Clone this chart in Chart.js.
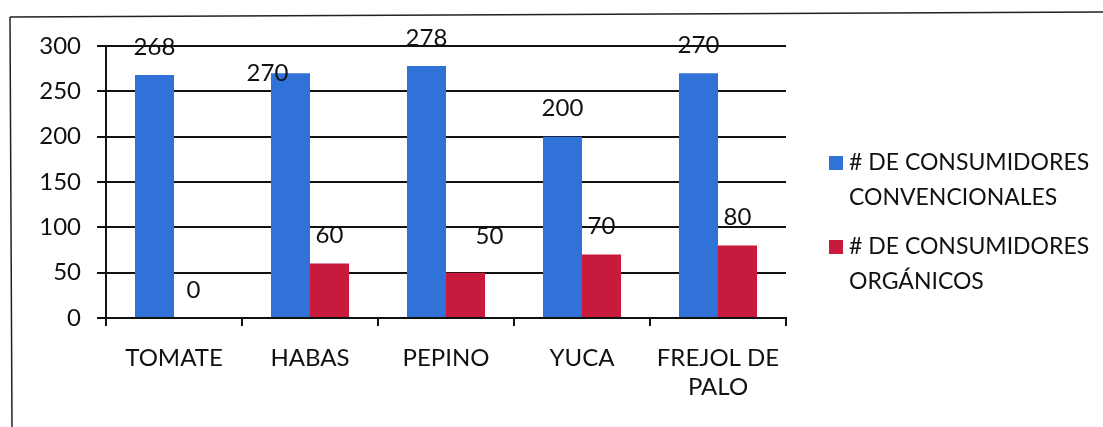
<!DOCTYPE html>
<html>
<head>
<meta charset="utf-8">
<script src="https://cdn.jsdelivr.net/npm/chart.js@4.4.1/dist/chart.umd.min.js"></script>
<style>
  html, body { margin: 0; padding: 0; background: #fff; }
  #wrap { width: 1103px; height: 427px; }
</style>
</head>
<body>
<div id="wrap"><canvas id="grafico" width="1103" height="427"></canvas></div>
<script>
// datos
const categorias = ["TOMATE", "HABAS", "PEPINO", "YUCA", ["FREJOL DE", "PALO"]];
const convencionales = [268, 270, 278, 200, 270];
const organicos = [0, 60, 50, 70, 80];
const yTicks = [0, 50, 100, 150, 200, 250, 300];
const leyenda = [
  ["# DE CONSUMIDORES", "CONVENCIONALES"],
  ["# DE CONSUMIDORES", "ORGÁNICOS"]
];

const AZUL = "#3072d8";
const ROJO = "#c71a3c";
const fuente = "Lato, 'Open Sans', sans-serif";

// marco exterior (escaneado, un poco torcido)
const marco = {
  id: "marco",
  beforeDraw(chart) {
    const c = chart.ctx;
    c.save();
    c.strokeStyle = "#222";
    c.lineWidth = 1.5;
    c.beginPath();
    c.moveTo(10, 17);
    c.lineTo(1103, 12);
    c.moveTo(10, 17);
    c.lineTo(12, 427);
    c.stroke();
    c.restore();
  }
};

// etiquetas de datos encima de cada barra
const etiquetas = {
  id: "etiquetas",
  afterDatasetsDraw(chart) {
    const c = chart.ctx;
    // algunas etiquetas estaban movidas a mano en el original
    const ajuste = { "0-1": [-23, 28], "1-2": [24, -8] };
    c.save();
    c.font = "24px " + fuente;
    c.fillStyle = "#111";
    c.textAlign = "center";
    c.textBaseline = "middle";
    chart.data.datasets.forEach((ds, i) => {
      chart.getDatasetMeta(i).data.forEach((bar, j) => {
        const a = ajuste[i + "-" + j] || [0, 0];
        c.fillText(ds.data[j], bar.x + a[0], bar.y - 28 + a[1]);
      });
    });
    c.restore();
  }
};

// leyenda a la derecha, en dos líneas
const leyendaPlugin = {
  id: "leyendaPlugin",
  afterDraw(chart) {
    const c = chart.ctx;
    c.save();
    c.font = "23px " + fuente;
    c.textBaseline = "middle";
    c.textAlign = "left";
    const colores = [AZUL, ROJO];
    const y0 = [163, 247];
    leyenda.forEach((lineas, i) => {
      c.fillStyle = colores[i];
      c.fillRect(829, y0[i] - 7, 14, 14);
      c.fillStyle = "#111";
      lineas.forEach((t, k) => {
        c.fillText(t, 849, y0[i] + k * 35);
      });
    });
    c.restore();
  }
};

new Chart(document.getElementById("grafico"), {
  type: "bar",
  data: {
    labels: categorias,
    datasets: [
      { label: leyenda[0].join(" "), data: convencionales, backgroundColor: AZUL },
      { label: leyenda[1].join(" "), data: organicos, backgroundColor: ROJO }
    ]
  },
  options: {
    responsive: false,
    animation: false,
    layout: { padding: { top: 46, right: 317, left: 0, bottom: 0 } },
    plugins: {
      legend: { display: false },
      tooltip: { enabled: false }
    },
    datasets: {
      bar: { categoryPercentage: 0.574, barPercentage: 1 }
    },
    scales: {
      x: {
        grid: {
          offset: true,
          drawOnChartArea: false,
          drawTicks: true,
          tickLength: 8,
          color: "#111",
          lineWidth: 2
        },
        border: { color: "#111", width: 2 },
        ticks: {
          color: "#111",
          font: { family: fuente, size: 24 },
          padding: 18,
          maxRotation: 0,
          autoSkip: false
        },
        afterFit(s) { s.height = 109; }
      },
      y: {
        min: 0,
        max: 300,
        afterBuildTicks(s) { s.ticks = yTicks.map(v => ({ value: v })); },
        grid: {
          color: "#111",
          lineWidth: 2,
          tickLength: 9
        },
        border: { color: "#111", width: 2 },
        ticks: {
          color: "#111",
          font: { family: fuente, size: 24 },
          padding: 16
        },
        afterFit(s) { s.width = 106; }
      }
    }
  },
  plugins: [marco, etiquetas, leyendaPlugin]
});
</script>
</body>
</html>
